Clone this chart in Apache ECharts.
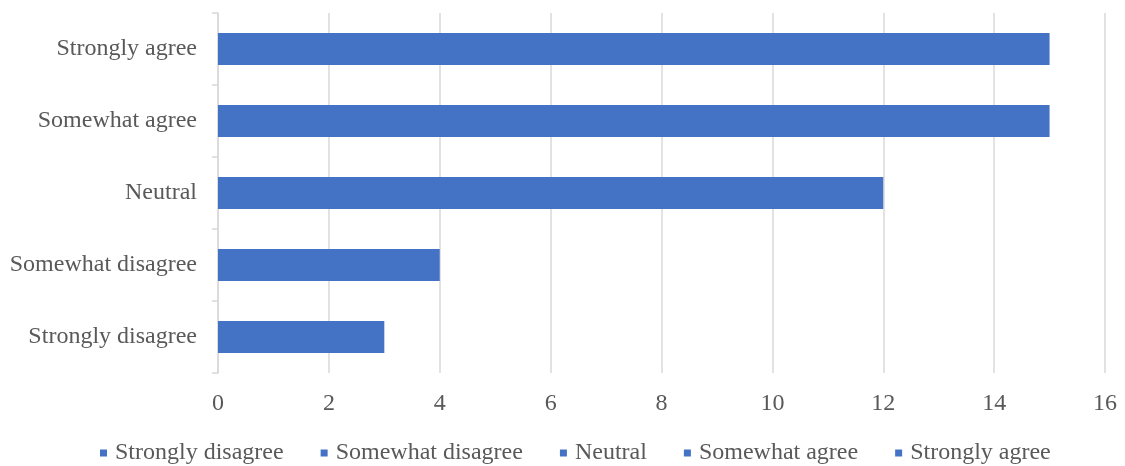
<!DOCTYPE html>
<html>
<head>
<meta charset="utf-8">
<script src="https://cdn.jsdelivr.net/npm/echarts@6/dist/echarts.min.js"></script>
<style>
html,body{margin:0;padding:0;background:#fff;}
#chart{width:1125px;height:466px;}
</style>
</head>
<body>
<div id="chart"></div>
<script>
const categories = ['Strongly disagree', 'Somewhat disagree', 'Neutral', 'Somewhat agree', 'Strongly agree'];
const values = [3, 4, 12, 15, 15];
const xTicks = [0, 2, 4, 6, 8, 10, 12, 14, 16];

const FONT = '"Liberation Serif", "Times New Roman", serif';
const TEXT = '#595959';
const BLUE = '#4472C4';

const series = categories.map((name, i) => ({
  name: name,
  type: 'bar',
  stack: 'all',
  barWidth: 32,
  itemStyle: { color: BLUE },
  data: categories.map((c, j) => (j === i ? values[i] : '-'))
}));

const chart = echarts.init(document.getElementById('chart'), null, { renderer: 'canvas' });
chart.setOption({
  animation: false,
  color: [BLUE],
  textStyle: { fontFamily: FONT },
  grid: { left: 218, right: 20, top: 13, bottom: 93, containLabel: false },
  legend: {
    data: categories,
    top: 441,
    left: 100,
    padding: 0,
    icon: 'rect',
    itemWidth: 7,
    itemHeight: 7,
    itemGap: 37,
    textStyle: { fontFamily: FONT, fontSize: 24, color: TEXT, padding: [0, 0, 0, 3] }
  },
  xAxis: {
    type: 'value',
    min: xTicks[0],
    max: xTicks[xTicks.length - 1],
    interval: 2,
    axisLine: { show: false },
    axisTick: { show: false },
    axisLabel: { fontFamily: FONT, fontSize: 24, color: TEXT, margin: 19 },
    splitLine: { show: true, lineStyle: { color: '#d9d9d9', width: 1.5 } }
  },
  yAxis: {
    type: 'category',
    data: categories,
    axisLine: { show: true, lineStyle: { color: '#d9d9d9', width: 1.5 } },
    axisTick: { show: true, length: 6, inside: false, lineStyle: { color: '#d9d9d9', width: 1.5 } },
    axisLabel: { fontFamily: FONT, fontSize: 24, color: TEXT, margin: 21 },
    splitLine: { show: false }
  },
  series: series
});
</script>
</body>
</html>
